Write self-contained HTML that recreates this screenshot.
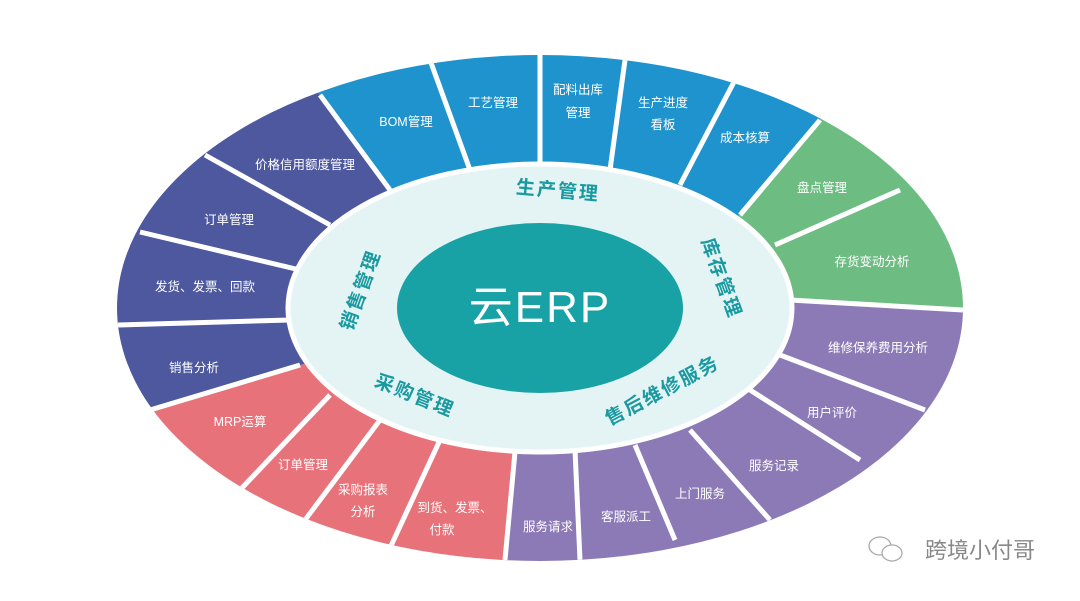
<!DOCTYPE html>
<html><head><meta charset="utf-8"><style>
html,body{margin:0;padding:0;background:#fff;}
svg{display:block;}
text{font-family:"Liberation Sans","Noto Sans CJK SC",sans-serif;}
.w{fill:#fff;font-size:12.5px;text-anchor:middle;}
.r{fill:#1a9aa0;font-size:19px;font-weight:bold;text-anchor:middle;letter-spacing:2px;}
</style></head><body>
<svg width="1080" height="601" viewBox="0 0 1080 601">
<defs><clipPath id="c"><ellipse cx="540" cy="308" rx="423" ry="253"/></clipPath></defs>
<g clip-path="url(#c)">
<polygon fill="#1e93cd" points="390,190 285,48 285,0 860,0 860,72 740,215 540,308"/>
<polygon fill="#6dbd83" points="740,215 860,72 1080,72 1080,315 1050,315 790,300 540,308"/>
<polygon fill="#8c7ab6" points="790,300 1050,315 1080,315 1080,601 500,614 515,452 540,308"/>
<polygon fill="#e8727a" points="515,452 500,614 0,614 0,432 75,432 300,365 540,308"/>
<polygon fill="#4d589f" points="300,365 75,432 0,432 0,0 285,0 285,48 390,190 540,308"/>
<g stroke="#fff" stroke-width="5">
<line x1="320" y1="95" x2="390" y2="190"/><line x1="430" y1="60" x2="470" y2="170"/>
<line x1="540" y1="55" x2="540" y2="165"/><line x1="625" y1="60" x2="610" y2="170"/>
<line x1="735" y1="80" x2="680" y2="185"/><line x1="820" y1="120" x2="740" y2="215"/>
<line x1="900" y1="190" x2="775" y2="245"/><line x1="963" y1="310" x2="790" y2="300"/>
<line x1="925" y1="410" x2="780" y2="355"/><line x1="860" y1="460" x2="750" y2="390"/>
<line x1="770" y1="520" x2="690" y2="430"/><line x1="675" y1="540" x2="635" y2="445"/>
<line x1="580" y1="560" x2="575" y2="450"/><line x1="505" y1="560" x2="515" y2="452"/>
<line x1="390" y1="548" x2="440" y2="440"/><line x1="305" y1="520" x2="380" y2="420"/>
<line x1="240" y1="490" x2="330" y2="395"/><line x1="150" y1="410" x2="300" y2="365"/>
<line x1="118" y1="325" x2="290" y2="320"/><line x1="140" y1="232" x2="300" y2="270"/>
<line x1="205" y1="155" x2="330" y2="225"/>
</g>
</g>
<ellipse cx="540" cy="308" rx="252" ry="144" fill="#e4f4f5" stroke="#fff" stroke-width="5"/>
<ellipse cx="540" cy="308" rx="143" ry="85" fill="#18a2a6"/>
<text x="540" y="322" fill="#fff" font-size="44" text-anchor="middle" style="letter-spacing:2px">云ERP</text>
<text class="r" x="558" y="197" transform="rotate(5 558 190)">生产管理</text>
<text class="r" x="360" y="297" transform="rotate(-70 360 290)">销售管理</text>
<text class="r" x="722" y="285" transform="rotate(70 722 278)">库存管理</text>
<text class="r" x="415" y="402" transform="rotate(22 415 395)">采购管理</text>
<text class="r" x="662" y="397" transform="rotate(-28 662 390)">售后维修服务</text>
<text class="w" x="406" y="126">BOM管理</text>
<text class="w" x="493" y="107">工艺管理</text>
<text class="w" x="578" y="94">配料出库</text><text class="w" x="578" y="117">管理</text>
<text class="w" x="663" y="107">生产进度</text><text class="w" x="663" y="129">看板</text>
<text class="w" x="745" y="142">成本核算</text>
<text class="w" x="822" y="192">盘点管理</text>
<text class="w" x="872" y="266">存货变动分析</text>
<text class="w" x="878" y="352">维修保养费用分析</text>
<text class="w" x="832" y="417">用户评价</text>
<text class="w" x="774" y="470">服务记录</text>
<text class="w" x="700" y="498">上门服务</text>
<text class="w" x="626" y="521">客服派工</text>
<text class="w" x="548" y="531">服务请求</text>
<text class="w" x="455" y="512">到货、发票、</text><text class="w" x="442" y="534">付款</text>
<text class="w" x="363" y="494">采购报表</text><text class="w" x="363" y="516">分析</text>
<text class="w" x="303" y="469">订单管理</text>
<text class="w" x="240" y="426">MRP运算</text>
<text class="w" x="194" y="372">销售分析</text>
<text class="w" x="205" y="291">发货、发票、回款</text>
<text class="w" x="229" y="224">订单管理</text>
<text class="w" x="305" y="169">价格信用额度管理</text>
<g fill="none" stroke="#aaa" stroke-width="1.3">
<ellipse cx="880" cy="546" rx="11" ry="9"/><ellipse cx="892" cy="553" rx="10" ry="8" fill="#fff"/>
</g>
<text x="980" y="558" fill="#888" font-size="22" text-anchor="middle">跨境小付哥</text>
</svg>
</body></html>
